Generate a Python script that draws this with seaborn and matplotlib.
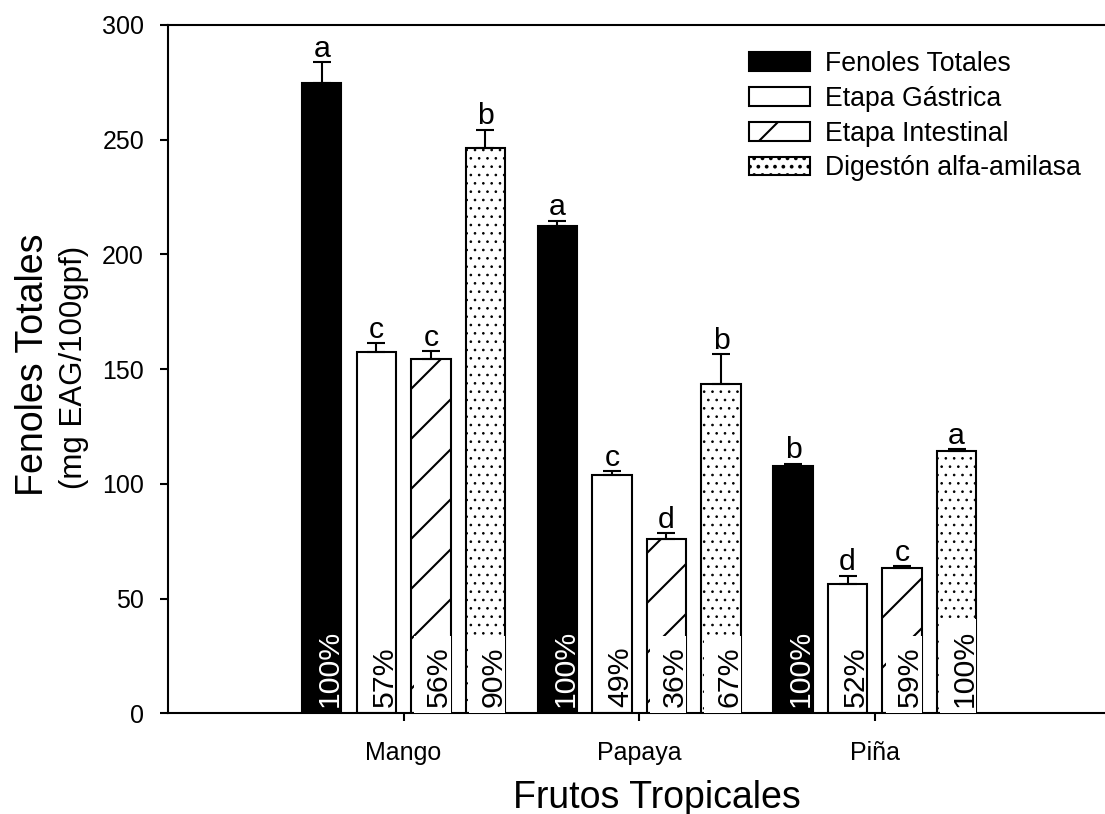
import numpy as np
import pandas as pd
import matplotlib
matplotlib.use("Agg")
import matplotlib.pyplot as plt
from matplotlib.container import BarContainer
import seaborn as sns

# ---------------- data ----------------
frutos = ["Mango", "Papaya", "Piña"]
etapas = ["Fenoles Totales", "Etapa Gástrica", "Etapa Intestinal", "Digestón alfa-amilasa"]

fenoles_totales = [274.6, 212.5, 107.9]
etapa_gastrica = [157.6, 104.0, 56.4]
etapa_intestinal = [154.6, 76.0, 63.5]
digestion_amilasa = [246.4, 143.4, 114.3]

err_fenoles = [9.3, 2.2, 0.9]
err_gastrica = [3.6, 1.4, 3.6]
err_intestinal = [3.4, 2.6, 0.8]
err_amilasa = [8.0, 13.2, 1.0]

letras_fenoles = ["a", "a", "b"]
letras_gastrica = ["c", "c", "d"]
letras_intestinal = ["c", "d", "c"]
letras_amilasa = ["b", "b", "a"]

pct_fenoles = ["100%", "100%", "100%"]
pct_gastrica = ["57%", "49%", "52%"]
pct_intestinal = ["56%", "36%", "59%"]
pct_amilasa = ["90%", "67%", "100%"]

colores = ["black", "white", "white", "white"]
tramas = ["", "", "/", "..."]

valores = [fenoles_totales, etapa_gastrica, etapa_intestinal, digestion_amilasa]
errores = [err_fenoles, err_gastrica, err_intestinal, err_amilasa]
letras = [letras_fenoles, letras_gastrica, letras_intestinal, letras_amilasa]
pcts = [pct_fenoles, pct_gastrica, pct_intestinal, pct_amilasa]

rows = []
for e, vals in zip(etapas, valores):
    for f, v in zip(frutos, vals):
        rows.append({"Fruto": f, "Etapa": e, "Valor": v})
df = pd.DataFrame(rows)

# ---------------- style ----------------
DPI = 150
sns.set_style("white")
plt.rcParams["font.family"] = ["Liberation Sans", "DejaVu Sans"]
plt.rcParams["text.color"] = "black"
plt.rcParams["axes.labelcolor"] = "black"
plt.rcParams["axes.edgecolor"] = "black"
plt.rcParams["xtick.color"] = "black"
plt.rcParams["ytick.color"] = "black"
plt.rcParams["hatch.linewidth"] = 1.0

fig = plt.figure(figsize=(1105 / DPI, 814 / DPI), dpi=DPI)
ax = fig.add_axes([168 / 1105, 1 - 713.3 / 814, 1 - 168 / 1105, (713.3 - 25) / 814])

sns.barplot(data=df, x="Fruto", y="Valor", hue="Etapa", order=frutos,
            hue_order=etapas, palette=colores, saturation=1,
            width=0.926, gap=0.278, errorbar=None, edgecolor="black",
            linewidth=1.0, legend=False, ax=ax)

bar_conts = [c for c in ax.containers if isinstance(c, BarContainer)]

for ci, cont in enumerate(bar_conts):
    patches = sorted(cont.patches, key=lambda p: p.get_x())
    for p in patches:
        p.set_hatch(tramas[ci])
        p.set_edgecolor("black")
        if tramas[ci] == "...":
            try:
                p.set_hatch_linewidth(0.45)
            except Exception:
                pass
    xs = [p.get_x() + p.get_width() / 2 for p in patches]
    vals = valores[ci]
    errs = errores[ci]
    ax.errorbar(xs, vals, yerr=[np.zeros(len(errs)), errs], fmt="none",
                ecolor="black", elinewidth=1.0, capsize=4.5, capthick=1.0,
                zorder=2)
    for j, p in enumerate(patches):
        ax.annotate(letras[ci][j], xy=(xs[j], vals[j] + errs[j]),
                    xytext=(0, 2.5), textcoords="offset points",
                    ha="center", va="baseline", fontsize=14.5,
                    annotation_clip=False)
        kw = {}
        if tramas[ci]:
            kw["bbox"] = dict(boxstyle="square,pad=0.35", fc="white", ec="none")
        t = ax.annotate(pcts[ci][j], xy=(xs[j], 0), xytext=(8, 6),
                        textcoords="offset pixels", rotation=90,
                        ha="center", va="bottom", fontsize=14.5,
                        color="white" if ci == 0 else "black",
                        annotation_clip=False, zorder=3, **kw)
        t.set_clip_path(p)

# ---------------- axes ----------------
ax.set_ylim(0, 300)
ax.set_yticks(np.arange(0, 301, 50))
ax.set_xlim(-1, 2.977)
ax.set_xticks(range(len(frutos)))
ax.set_xticklabels(frutos)
ax.set_ylabel("")
ax.set_xlabel("Frutos Tropicales", fontsize=18, labelpad=7)
ax.xaxis.label.set_x((656.5 - 168) / 937)

ax.tick_params(axis="both", direction="out", length=4, width=1.0,
               labelsize=12, bottom=True, left=True, top=False, right=False)
ax.tick_params(axis="y", pad=7.5)
ax.tick_params(axis="x", pad=9.5)
for s in ["left", "bottom", "top"]:
    ax.spines[s].set_visible(True)
    ax.spines[s].set_linewidth(1.0)
    ax.spines[s].set_color("black")
ax.spines["right"].set_visible(False)

fig.text(51 / 1105, 1 - 365 / 814, "Fenoles Totales", rotation=90,
         ha="right", va="center", fontsize=18)
fig.text(74 / 1105, 1 - 367 / 814, "(mg EAG/100gpf)", rotation=90,
         ha="center", va="center", fontsize=15)

ax.legend(handles=bar_conts, labels=etapas, loc="upper left",
          bbox_to_anchor=((749 - 168) / 937, (713.3 - 51) / 688.3),
          frameon=False, fontsize=12.8, handlelength=2.29, handleheight=0.7,
          handletextpad=0.55, labelspacing=0.33, borderpad=0, borderaxespad=0)

fig.savefig("out.png", dpi=DPI)
